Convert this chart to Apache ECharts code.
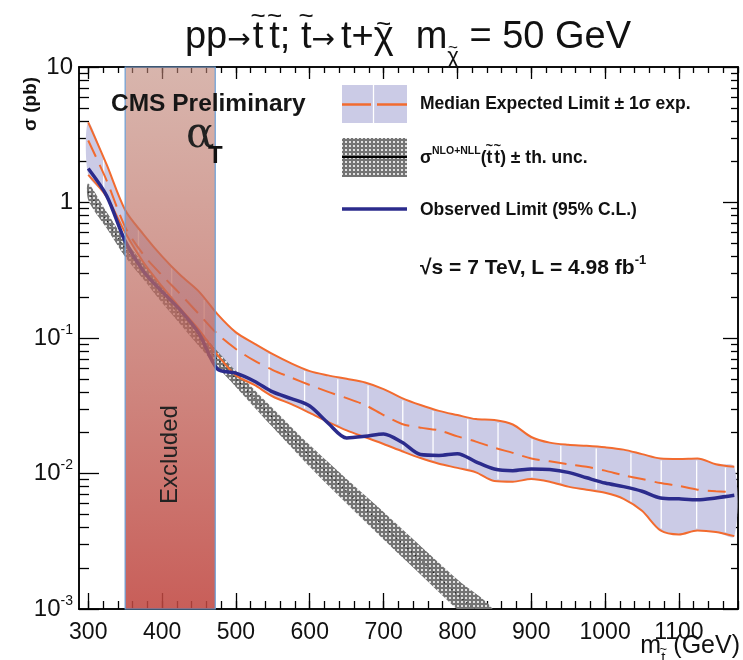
<!DOCTYPE html>
<html>
<head>
<meta charset="utf-8">
<script src="https://cdn.jsdelivr.net/npm/echarts@6/dist/echarts.min.js"></script>
<style>
  html, body { margin: 0; padding: 0; background: #fff; }
  #chart { width: 743px; height: 660px; }
</style>
</head>
<body>
<div id="chart"></div>
<script>
// Stop mass grid (GeV) shared by the limit curves
const masses = [300, 325, 350, 375, 400, 425, 450, 475, 500, 525, 550, 575, 600, 625, 650, 675, 700, 725,
                750, 775, 800, 825, 850, 875, 900, 925, 950, 975, 1000, 1025, 1050, 1075, 1100, 1125, 1150, 1175];

// Expected limit +1 sigma (pb)
const expectedUp = [3.9, 1.9, 0.88, 0.58, 0.40, 0.29, 0.22, 0.15, 0.11, 0.091, 0.076, 0.065, 0.057, 0.053, 0.050, 0.047,
                    0.042, 0.036, 0.032, 0.029, 0.027, 0.0252, 0.0248, 0.023, 0.0186, 0.0169, 0.0163, 0.016, 0.0156,
                    0.015, 0.0139, 0.0129, 0.0128, 0.0129, 0.0117, 0.0112];

// Median expected limit (pb)
const expectedMedian = [2.87, 1.45, 0.66, 0.41, 0.29, 0.21, 0.15, 0.107, 0.083, 0.068, 0.058, 0.051, 0.045, 0.040, 0.036,
                        0.032, 0.027, 0.0232, 0.0218, 0.0208, 0.0188, 0.0172, 0.0155, 0.0142, 0.0129, 0.0123, 0.0117,
                        0.0112, 0.0105, 0.0097, 0.0091, 0.0085, 0.0081, 0.0076, 0.0074, 0.0073];

// Expected limit -1 sigma (pb)
const expectedDown = [1.60, 1.10, 0.60, 0.36, 0.24, 0.165, 0.115, 0.075, 0.053, 0.045, 0.037, 0.0325, 0.028, 0.024, 0.0208,
                      0.0185, 0.0165, 0.0146, 0.013, 0.0118, 0.011, 0.0102, 0.0088, 0.0087, 0.0091, 0.0087, 0.008,
                      0.0076, 0.0072, 0.0065, 0.0053, 0.0038, 0.00355, 0.0038, 0.0037, 0.00345];

// Observed 95% C.L. limit (pb)
const observed = [1.78, 1.12, 0.52, 0.31, 0.22, 0.16, 0.108, 0.059, 0.055, 0.048, 0.040, 0.0357, 0.0315, 0.0235, 0.0183,
                  0.0188, 0.0196, 0.017, 0.0138, 0.0136, 0.014, 0.0122, 0.0108, 0.0105, 0.0108, 0.0107, 0.0102, 0.0093,
                  0.0085, 0.008, 0.0074, 0.0066, 0.0065, 0.0064, 0.0066, 0.0069];

// NLO+NLL stop pair cross section with theory uncertainty (pb)
const theoryMasses = [300, 325, 350, 375, 400, 425, 450, 475, 500, 550, 600, 650, 700, 750, 800, 850];
const theoryCentral = [1.2, 0.74, 0.457, 0.31, 0.209, 0.145, 0.100, 0.070, 0.050, 0.0257, 0.0135, 0.0074, 0.0041, 0.00229, 0.00128, 0.00074];
const theoryUp = [1.38, 0.85, 0.525, 0.356, 0.240, 0.166, 0.115, 0.080, 0.057, 0.0302, 0.0162, 0.0091, 0.0052, 0.00292, 0.00165, 0.00096];
const theoryDown = [1.045, 0.645, 0.398, 0.27, 0.182, 0.126, 0.087, 0.061, 0.0435, 0.0219, 0.0112, 0.0060, 0.00326, 0.0018, 0.00099, 0.00057];

// Excluded stop mass range (GeV)
const excludedRange = [350, 472];

// Masses where the expected band shows its segment seams
const seamMasses = [321, 368, 413, 457, 502, 545, 593, 638, 679, 726, 767, 814, 855, 901, 940, 988, 1035, 1076, 1124, 1163];

// Axis ticks
const xTickValues = [300, 400, 500, 600, 700, 800, 900, 1000, 1100];
const yTickValues = [0.001, 0.01, 0.1, 1, 10];
const X_MIN = 287.5, X_MAX = 1180, Y_MIN = 0.001, Y_MAX = 10;

const xMinorTicks = [];
for (let m = 300; m <= X_MAX; m += 20) xMinorTicks.push(m);
const yMinorTicks = [];
for (let d = -3; d <= 0; d++) for (let k = 2; k <= 9; k++) yMinorTicks.push(+(k * Math.pow(10, d)).toPrecision(3));

const FONT = '"Liberation Sans", Arial, sans-serif';
const NARROW = '"Liberation Sans Narrow", "Liberation Sans", Arial, sans-serif';
const ORANGE = '#f26b2f';
const NAVY = '#2b2b8c';
const LAVENDER = '#cbcbe6';
const SMOOTH = 0.3;

const pairs = (xs, ys) => xs.map((x, i) => [x, ys[i]]);

function interpLog(xs, ys, x) {
  for (let i = 0; i < xs.length - 1; i++) {
    if (x >= xs[i] && x <= xs[i + 1]) {
      const t = (x - xs[i]) / (xs[i + 1] - xs[i]);
      return Math.pow(10, Math.log10(ys[i]) * (1 - t) + Math.log10(ys[i + 1]) * t);
    }
  }
  return ys[ys.length - 1];
}

// Dotted hatch used for the theory band
function makeHatch() {
  const c = document.createElement('canvas');
  c.width = 4; c.height = 4;
  const g = c.getContext('2d');
  g.fillStyle = '#747474'; g.fillRect(0, 0, 4, 4);
  g.fillStyle = '#e0e0e0'; g.fillRect(1, 1, 2, 2);
  return c;
}
const hatch = { image: makeHatch(), repeat: 'repeat' };

// Text rows with tildes placed over single glyphs
const measureCtx = document.createElement('canvas').getContext('2d');
function textWidth(str, font) { measureCtx.font = font; return measureCtx.measureText(str).width; }
function textRow(x, y, parts, align) {
  const widths = parts.map(p => textWidth(p.text, p.font));
  const total = widths.reduce((s, w, i) => s + w + (parts[i].gap || 0), 0);
  let cx = align === 'center' ? x - total / 2 : align === 'right' ? x - total : x;
  const els = [];
  parts.forEach((p, i) => {
    const py = y + (p.dy || 0);
    els.push({ type: 'text', z: 20, x: cx, y: py,
      style: { text: p.text, font: p.font, fill: '#111', textAlign: 'left', textVerticalAlign: 'middle' } });
    if (p.tilde !== undefined) {
      els.push({ type: 'text', z: 20, x: cx + widths[i] / 2 + (p.tx || 0), y: py + p.tilde,
        style: { text: '~', font: p.tildeFont, fill: '#111', textAlign: 'center', textVerticalAlign: 'middle' } });
    }
    cx += widths[i] + (p.gap || 0);
  });
  return els;
}

const T = '38px ' + FONT;
const ARROW = '28px "DejaVu Sans", sans-serif';
const TT = '26px ' + FONT;
const titleEls = textRow(408, 38, [
  { text: 'pp', font: T },
  { text: '→', font: ARROW, dy: 3, gap: 2 },
  { text: 't', font: T, tilde: -21, tildeFont: TT, gap: 6 },
  { text: 't', font: T, tilde: -21, tildeFont: TT },
  { text: '; ', font: T },
  { text: 't', font: T, tilde: -21, tildeFont: TT },
  { text: '→', font: ARROW, dy: 3, gap: 6 },
  { text: 't+', font: T },
  { text: 'χ', font: T, tilde: -13, tildeFont: TT, gap: 22 },
  { text: 'm', font: T },
  { text: 'χ', font: '22px ' + FONT, dy: 19, tilde: -9, tildeFont: '17px ' + FONT },
  { text: ' = 50 GeV', font: T }
], 'center');

const L = 'bold 17.5px ' + FONT;
const legendTheoryEls = textRow(420, 158, [
  { text: 'σ', font: L },
  { text: 'NLO+NLL', font: 'bold 10.5px ' + FONT, dy: -7 },
  { text: '(', font: L },
  { text: 't', font: L, tilde: -12, tildeFont: 'bold 13px ' + FONT, gap: 2 },
  { text: 't', font: L, tilde: -12, tildeFont: 'bold 13px ' + FONT },
  { text: ') ± th. unc.', font: L }
], 'left');

const XT = '25px ' + NARROW;
const xTitleEls = textRow(740, 646, [
  { text: 'm', font: XT },
  { text: 't', font: '15px ' + NARROW, dy: 12, tilde: -9, tildeFont: '13px ' + FONT, gap: 8 },
  { text: '(GeV)', font: XT }
], 'right');

const chart = echarts.init(document.getElementById('chart'));

function xAxisDef(pos, values, len, withLabels) {
  return {
    type: 'value', position: pos, min: X_MIN, max: X_MAX,
    axisLine: { show: true, onZero: false, lineStyle: { color: '#000', width: 1.5 } },
    axisTick: { show: true, inside: true, length: len, customValues: values, lineStyle: { color: '#000', width: 1.3 } },
    axisLabel: withLabels ? { show: true, customValues: values, margin: 12, color: '#111', fontFamily: NARROW, fontSize: 23,
      formatter: (v) => String(v) } : { show: false },
    splitLine: { show: false }
  };
}
function yAxisDef(pos, values, len, withLabels) {
  return {
    type: 'log', logBase: 10, position: pos, min: Y_MIN, max: Y_MAX,
    axisLine: { show: true, onZero: false, lineStyle: { color: '#000', width: 1.5 } },
    axisTick: { show: true, inside: true, length: len, customValues: values, lineStyle: { color: '#000', width: 1.3 } },
    axisLabel: withLabels ? {
      show: true, customValues: values, margin: 6, align: 'right',
      formatter: (v) => {
        const e = Math.round(Math.log10(v));
        if (e === 1) return '{b|10}';
        if (e === 0) return '{b|1}';
        return '{b|10}{e|' + e + '}';
      },
      rich: {
        b: { fontFamily: NARROW, fontSize: 24, color: '#111', lineHeight: 30 },
        e: { fontFamily: NARROW, fontSize: 14, color: '#111', lineHeight: 16, verticalAlign: 'top' }
      }
    } : { show: false },
    splitLine: { show: false }
  };
}

// Filled band between an upper and a lower curve
function bandSeries(name, xs, hi, lo, fill, z) {
  return {
    type: 'custom', name, z, silent: true, clip: true, xAxisIndex: 0, yAxisIndex: 0,
    data: [[xs[0], hi[0]]], encode: { x: 0, y: 1 },
    renderItem: (params, api) => {
      const pts = [];
      for (let i = 0; i < xs.length; i++) pts.push(api.coord([xs[i], hi[i]]));
      for (let i = xs.length - 1; i >= 0; i--) pts.push(api.coord([xs[i], lo[i]]));
      return { type: 'polygon', shape: { points: pts, smooth: SMOOTH }, style: { fill } };
    }
  };
}

const lineBase = { type: 'line', symbol: 'none', smooth: SMOOTH, silent: true, xAxisIndex: 0, yAxisIndex: 0 };

const option = {
  animation: false,
  backgroundColor: '#fff',
  grid: { left: 79, top: 67, width: 659, height: 542, containLabel: false },
  xAxis: [
    xAxisDef('bottom', xTickValues, 16, true),
    xAxisDef('bottom', xMinorTicks, 8, false),
    xAxisDef('top', xTickValues, 12, false),
    xAxisDef('top', xMinorTicks, 6, false)
  ],
  yAxis: [
    yAxisDef('left', yTickValues, 20, true),
    yAxisDef('left', yMinorTicks, 10, false),
    yAxisDef('right', yTickValues, 15, false),
    yAxisDef('right', yMinorTicks, 7, false)
  ],
  series: [
    bandSeries('Median Expected Limit ± 1σ exp.', masses, expectedUp, expectedDown, LAVENDER, 1),
    // band seams
    {
      type: 'custom', name: 'seams', z: 2, silent: true, xAxisIndex: 0, yAxisIndex: 0,
      data: seamMasses.map(m => [m]), encode: { x: 0 },
      renderItem: (params, api) => {
        const m = api.value(0);
        const a = api.coord([m, interpLog(masses, expectedUp, m)]);
        const b = api.coord([m, interpLog(masses, expectedDown, m)]);
        return { type: 'line', shape: { x1: a[0], y1: a[1] + 2, x2: b[0], y2: b[1] - 2 }, style: { stroke: '#ffffff', lineWidth: 1.3 } };
      }
    },
    bandSeries('σ NLO+NLL ± th. unc.', theoryMasses, theoryUp, theoryDown, hatch, 3),
    Object.assign({}, lineBase, { name: 'theory', z: 4, data: pairs(theoryMasses, theoryCentral), lineStyle: { color: '#111', width: 1.2, type: [1, 4] } }),
    // expected limits
    Object.assign({}, lineBase, { name: 'expUp', z: 5, data: pairs(masses, expectedUp), lineStyle: { color: ORANGE, width: 2 } }),
    Object.assign({}, lineBase, { name: 'expDown', z: 5, data: pairs(masses, expectedDown), lineStyle: { color: ORANGE, width: 2 } }),
    Object.assign({}, lineBase, { name: 'expMedian', z: 5, data: pairs(masses, expectedMedian), lineStyle: { color: ORANGE, width: 2, type: [18, 9] } }),
    // observed
    Object.assign({}, lineBase, { name: 'Observed Limit (95% C.L.)', z: 6, data: pairs(masses, observed), lineStyle: { color: NAVY, width: 3.5 } }),
    // excluded mass range
    {
      type: 'custom', name: 'Excluded', z: 8, silent: true, xAxisIndex: 0, yAxisIndex: 0,
      data: [excludedRange], encode: { x: [0, 1] },
      renderItem: (params, api) => {
        const p0 = api.coord([api.value(0), Y_MAX]);
        const p1 = api.coord([api.value(1), Y_MIN]);
        const w = p1[0] - p0[0], h = p1[1] - p0[1];
        return {
          type: 'group',
          children: [
            { type: 'rect', shape: { x: p0[0], y: p0[1], width: w, height: h },
              style: { fill: new echarts.graphic.LinearGradient(0, 0, 0, 1, [
                  { offset: 0, color: 'rgba(190,132,118,0.6)' },
                  { offset: 1, color: 'rgba(192,70,64,0.87)' }]),
                stroke: '#6a9fd6', lineWidth: 1.2 } },
            { type: 'text', x: p0[0] + w / 2, y: p0[1] + h * 0.715, rotation: Math.PI / 2,
              style: { text: 'Excluded', fill: '#222', font: '24px ' + FONT, align: 'center', verticalAlign: 'middle' } }
          ]
        };
      }
    }
  ],
  graphic: [].concat(titleEls, legendTheoryEls, xTitleEls, [
    // CMS label
    { type: 'text', z: 20, x: 111, y: 104, style: { text: 'CMS Preliminary', font: 'bold 24.5px ' + FONT, fill: '#161616', textAlign: 'left', textVerticalAlign: 'middle' } },
    { type: 'text', z: 20, x: 186, y: 136, style: { text: 'α', font: '42px "DejaVu Serif", serif', fill: '#222', textAlign: 'left', textVerticalAlign: 'middle' } },
    { type: 'text', z: 20, x: 208, y: 156, style: { text: 'T', font: 'bold 24px ' + FONT, fill: '#111', textAlign: 'left', textVerticalAlign: 'middle' } },
    // legend symbols
    { type: 'rect', z: 20, shape: { x: 342, y: 85, width: 65, height: 38 }, style: { fill: LAVENDER } },
    { type: 'line', z: 21, shape: { x1: 373.5, y1: 85, x2: 373.5, y2: 123 }, style: { stroke: '#fff', lineWidth: 1.3 } },
    { type: 'line', z: 21, shape: { x1: 342, y1: 104.5, x2: 371, y2: 104.5 }, style: { stroke: ORANGE, lineWidth: 2.5 } },
    { type: 'line', z: 21, shape: { x1: 377, y1: 104.5, x2: 407, y2: 104.5 }, style: { stroke: ORANGE, lineWidth: 2.5 } },
    { type: 'rect', z: 20, shape: { x: 342, y: 138, width: 65, height: 39 }, style: { fill: hatch } },
    { type: 'line', z: 21, shape: { x1: 342, y1: 157, x2: 407, y2: 157 }, style: { stroke: '#000', lineWidth: 2 } },
    { type: 'line', z: 21, shape: { x1: 342, y1: 209, x2: 407, y2: 209 }, style: { stroke: NAVY, lineWidth: 3.5 } },
    // legend texts
    { type: 'text', z: 20, x: 420, y: 104, style: { text: 'Median Expected Limit ± 1σ exp.', font: L, fill: '#111', textAlign: 'left', textVerticalAlign: 'middle' } },
    { type: 'text', z: 20, x: 420, y: 210, style: { text: 'Observed Limit (95% C.L.)', font: L, fill: '#111', textAlign: 'left', textVerticalAlign: 'middle' } },
    { type: 'text', z: 20, x: 420, y: 268, style: {
        text: '{b|√s = 7 TeV, L = 4.98 fb}{s|-1}', textAlign: 'left', textVerticalAlign: 'middle',
        rich: { b: { font: 'bold 21px ' + FONT, fill: '#111', lineHeight: 28 },
                s: { font: 'bold 13px ' + FONT, fill: '#111', lineHeight: 14, verticalAlign: 'top' } } } },
    // y axis title
    { type: 'text', z: 20, x: 31, y: 104, rotation: Math.PI / 2, style: { text: 'σ (pb)', font: 'bold 19px ' + FONT, fill: '#111', textAlign: 'center', textVerticalAlign: 'middle' } }
  ])
};

chart.setOption(option);
</script>
</body>
</html>
